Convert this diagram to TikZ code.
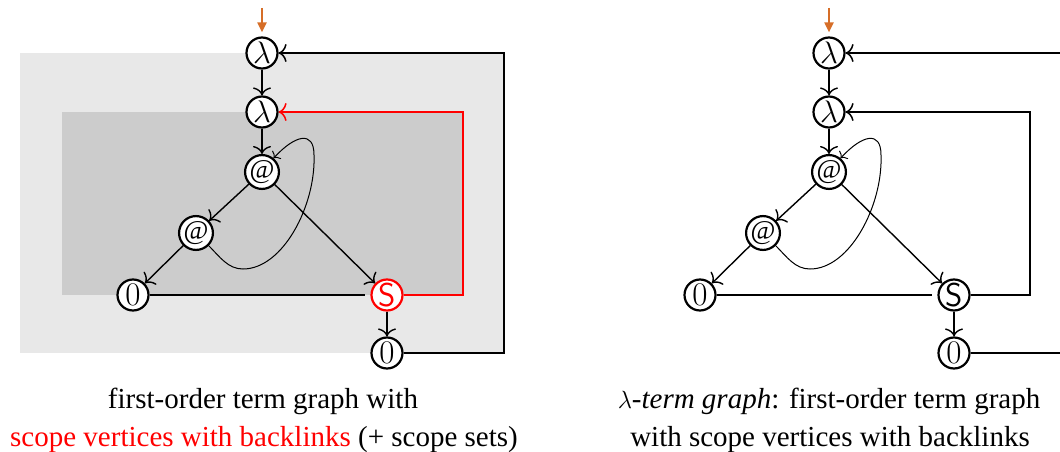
\documentclass[tikz,border=0pt]{standalone}
\usepackage{fontspec}
\usepackage{graphicx}
\newfontfamily\capfont{Liberation Serif}
\usetikzlibrary{arrows.meta}
\definecolor{lgray}{RGB}{232,232,232}
\definecolor{dgray}{RGB}{204,204,204}
\definecolor{orng}{RGB}{214,110,40}
\newcommand{\lam}{\scalebox{1.25}{$\lambda$}}
\newcommand{\att}{{\capfont\fontsize{27}{27}\selectfont @}}
\tikzset{
  vtx/.style={circle, draw, line width=2.2pt, fill=white, minimum size=31pt, inner sep=0pt, font=\fontsize{33}{33}\selectfont},
  edge/.style={line width=1.4pt, -{Computer Modern Rightarrow[length=8pt,width=18pt,line width=1.4pt]}},
  plainedge/.style={line width=1.4pt},
  loopedge/.style={line width=1pt, -{Computer Modern Rightarrow[length=5pt,width=12pt,line width=1pt]}},
  blink/.style={line width=1.5pt, -{Computer Modern Rightarrow[length=8pt,width=18pt,line width=1.5pt]}},
  redlink/.style={blink, draw=red, line width=2.6pt},
  inarrow/.style={draw=orng, line width=2pt, -{Triangle[length=10pt,width=9pt]}, shorten >=4pt},
  captext/.style={anchor=base, font=\capfont\fontsize{29}{29}\selectfont, inner sep=0pt}
}
\begin{document}
\begin{tikzpicture}[x=1pt,y=-1pt]
\clip (0,0) rectangle (1060,452);
% ---------- left panel ----------
\fill[lgray] (20,53) rectangle (504,353);
\fill[dgray] (62,112) rectangle (463,295);
\node[vtx] (L1) at (262,53) {\lam};
\node[vtx] (L2) at (262,112) {\lam};
\node[vtx] (A1) at (262,172) {\att};
\node[vtx] (A2) at (196,233) {\att};
\node[vtx] (Z1) at (133,295) {0};
\node[vtx, draw=red, text=red] (S) at (387,295) {\sffamily S};
\node[vtx] (Z2) at (387,353) {0};
\coordinate (in) at (262,8);
\coordinate (rb) at (463,112);
\coordinate (ob) at (504,53);
\draw[inarrow] (in) -- (L1);
\draw[edge] (L1) -- (L2);
\draw[edge] (L2) -- (A1);
\draw[edge] (A1) -- (A2);
\draw[edge] (A1) -- (S);
\draw[edge] (A2) -- (Z1);
\draw[edge] (S) -- (Z2);
\draw[plainedge, shorten >=5pt] (Z1) -- (S);
\draw[loopedge] (A2.-45) .. controls (220,257) and (228,269) .. (243,269)
  .. controls (283,269) and (316,205) .. (314,155)
  .. controls (314,130) and (295,135) .. (A1.50);
\draw[redlink] (S) -| (rb) -- (L2);
\draw[blink] (Z2) -| (ob) -- (L1);
\node[captext] (c1) at (263,408) {first-order term graph with};
\node[captext] (c2) at (264,446) {\textcolor{red}{scope vertices with backlinks} (+ scope sets)};
% ---------- right panel ----------
\node[vtx] (rL1) at (829,53) {\lam};
\node[vtx] (rL2) at (829,112) {\lam};
\node[vtx] (rA1) at (829,172) {\att};
\node[vtx] (rA2) at (763,233) {\att};
\node[vtx] (rZ1) at (700,295) {0};
\node[vtx] (rS) at (954,295) {\sffamily S};
\node[vtx] (rZ2) at (954,353) {0};
\coordinate (rin) at (829,8);
\coordinate (rrb) at (1030,112);
\coordinate (rob) at (1071,53);
\draw[inarrow] (rin) -- (rL1);
\draw[edge] (rL1) -- (rL2);
\draw[edge] (rL2) -- (rA1);
\draw[edge] (rA1) -- (rA2);
\draw[edge] (rA1) -- (rS);
\draw[edge] (rA2) -- (rZ1);
\draw[edge] (rS) -- (rZ2);
\draw[plainedge, shorten >=5pt] (rZ1) -- (rS);
\draw[loopedge] (rA2.-45) .. controls (787,257) and (795,269) .. (810,269)
  .. controls (850,269) and (883,205) .. (881,155)
  .. controls (881,130) and (862,135) .. (rA1.50);
\draw[blink] (rS) -| (rrb) -- (rL2);
\draw[blink] (rZ2) -| (rob) -- (rL1);
\node[captext] (c3) at (829,408) {$\lambda$\textit{-term graph}: first-order term graph};
\node[captext] (c4) at (830,446) {with scope vertices with backlinks};
\end{tikzpicture}
\end{document}
